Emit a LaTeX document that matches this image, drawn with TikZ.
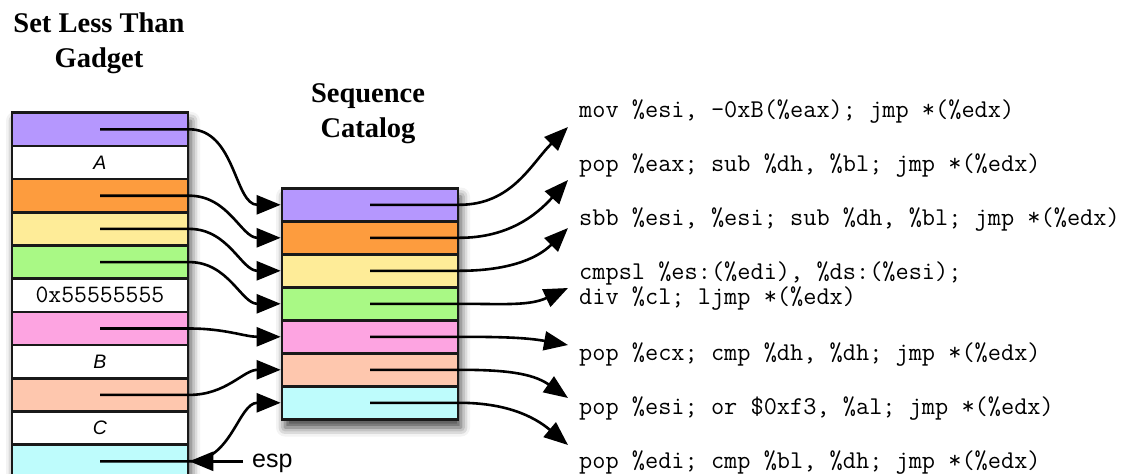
\documentclass[tikz,border=0pt]{standalone}
\usepackage{fontspec}
\setmainfont{Liberation Serif}
\setsansfont{Liberation Sans}
\usetikzlibrary{arrows.meta,shadows.blur}

\definecolor{cPurple}{HTML}{B597FE}
\definecolor{cOrange}{HTML}{FD9C3E}
\definecolor{cYellow}{HTML}{FEEC98}
\definecolor{cGreen}{HTML}{A9F985}
\definecolor{cPink}{HTML}{FDA4E1}
\definecolor{cSalmon}{HTML}{FEC7AE}
\definecolor{cCyan}{HTML}{BEFCFC}

\tikzset{
  cell/.style={draw=black!90, line width=2.6pt, minimum width=176pt,
    minimum height=33.2pt, inner sep=0pt},
  mcell/.style={cell, minimum height=33pt},
  stackbg/.style={fill=white, inner sep=0pt, minimum width=176pt,
    blur shadow={shadow xshift=3pt, shadow yshift=-8pt,
      shadow blur radius=9pt, shadow opacity=75}},
  conn/.style={line width=2.6pt, -{Triangle[length=24pt,width=19pt]}},
  title/.style={font=\fontsize{28.5}{34.5}\selectfont\bfseries,
    align=center, anchor=base, inner sep=0pt},
  asm/.style={font=\fontsize{25.6}{25.3}\selectfont\ttfamily,
    align=left, anchor=base west, inner sep=0pt},
  slot/.style={font=\fontsize{19.5}{22}\selectfont\sffamily\itshape},
  word/.style={font=\fontsize{25}{24}\selectfont\ttfamily},
}

\begin{document}
\begin{tikzpicture}[x=1pt, y=-1pt]
\useasboundingbox (0,0) rectangle (1125,474);
\clip (0,0) rectangle (1125,474);

% titles (anchored at the baseline of their last line)
\node[title] (t1) at (99,67) {Set Less Than\\Gadget};
\node[title] (t2) at (368,137) {Sequence\\Catalog};

% shadowed backgrounds of the two stacks
\node[stackbg, minimum height=380pt, anchor=north] (LB) at (100,112.7) {};
\node[stackbg, minimum height=231pt, anchor=north] (MB) at (370,188.3) {};

% gadget stack
\node[cell, fill=cPurple] (L0) at (100,129.3) {};
\node[cell, fill=white, slot] (L1) at (100,162.5) {A};
\node[cell, fill=cOrange] (L2) at (100,195.7) {};
\node[cell, fill=cYellow] (L3) at (100,228.9) {};
\node[cell, fill=cGreen] (L4) at (100,262.1) {};
\node[cell, fill=white, word] (L5) at (100,295.3) {0x55555555};
\node[cell, fill=cPink] (L6) at (100,328.5) {};
\node[cell, fill=white, slot] (L7) at (100,361.7) {B};
\node[cell, fill=cSalmon] (L8) at (100,394.9) {};
\node[cell, fill=white, slot] (L9) at (100,428.1) {C};
\node[cell, fill=cCyan] (L10) at (100,461.3) {};

% sequence catalog
\node[mcell, fill=cPurple] (M0) at (370,204.8) {};
\node[mcell, fill=cOrange] (M1) at (370,237.8) {};
\node[mcell, fill=cYellow] (M2) at (370,270.8) {};
\node[mcell, fill=cGreen] (M3) at (370,303.8) {};
\node[mcell, fill=cPink] (M4) at (370,336.8) {};
\node[mcell, fill=cSalmon] (M5) at (370,369.8) {};
\node[mcell, fill=cCyan] (M6) at (370,402.8) {};

% instruction sequences
\node[asm] (s0) at (579,117.5) {mov \%esi, -0xB(\%eax); jmp *(\%edx)};
\node[asm] (s1) at (579,171.5) {pop \%eax; sub \%dh, \%bl; jmp *(\%edx)};
\node[asm] (s2) at (579,225.5) {sbb \%esi, \%esi; sub \%dh, \%bl; jmp *(\%edx)};
\node[asm] (s3) at (579,304.8) {cmpsl \%es:(\%edi), \%ds:(\%esi);\\div \%cl; ljmp *(\%edx)};
\node[asm] (s4) at (579,360.5) {pop \%ecx; cmp \%dh, \%dh; jmp *(\%edx)};
\node[asm] (s5) at (579,414.5) {pop \%esi; or \$0xf3, \%al; jmp *(\%edx)};
\node[asm] (s6) at (579,468.5) {pop \%edi; cmp \%bl, \%dh; jmp *(\%edx)};

% arrow ends next to the sequences
\coordinate (e0) at (568,127);
\coordinate (e1) at (568,180);
\coordinate (e2) at (568,228);
\coordinate (e3) at (568,288);
\coordinate (e4) at (568,345);
\coordinate (e5) at (568,398);
\coordinate (e6) at (568,445);

% stack pointer
\node[font=\fontsize{25}{30}\selectfont\sffamily, anchor=base west,
  inner sep=0pt, inner xsep=9pt] (esp) at (243,467) {esp};
\draw[conn] (esp.west |- L10.east) -- (L10.east);

% gadget words -> catalog entries
\draw[conn] (L0.center) -- (L0.east) to[out=0,in=180] (M0.west);
\draw[conn] (L2.center) -- (L2.east) to[out=0,in=180] (M1.west);
\draw[conn] (L3.center) -- (L3.east) to[out=0,in=180] (M2.west);
\draw[conn] (L4.center) -- (L4.east) to[out=0,in=180] (M3.west);
\draw[conn] (L6.center) -- (L6.east) to[out=0,in=180] (M4.west);
\draw[conn] (L8.center) -- (L8.east) to[out=0,in=180] (M5.west);
\draw[conn] (L10.center) -- (L10.east) to[out=0,in=180] (M6.west);

% catalog entries -> instruction sequences
\draw[conn] (M0.center) -- (M0.east) to[out=0,in=225] (e0);
\draw[conn] (M1.center) -- (M1.east) to[out=0,in=228] (e1);
\draw[conn] (M2.center) -- (M2.east) to[out=0,in=225] (e2);
\draw[conn] (M3.center) -- (M3.east) to[out=0,in=205] (e3);
\draw[conn] (M4.center) -- (M4.east) to[out=0,in=170] (e4);
\draw[conn] (M5.center) -- (M5.east) to[out=0,in=145] (e5);
\draw[conn] (M6.center) -- (M6.east) to[out=0,in=140] (e6);
\end{tikzpicture}
\end{document}
